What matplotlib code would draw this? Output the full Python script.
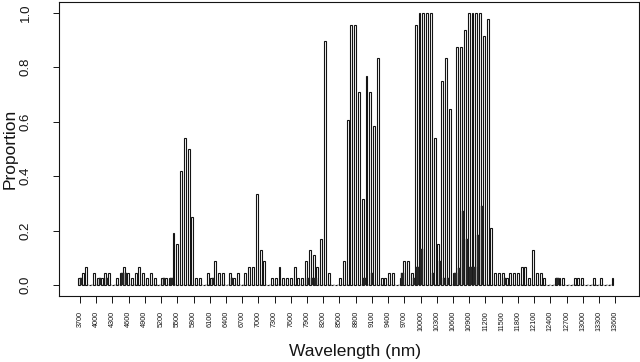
import numpy as np
import matplotlib
matplotlib.use("Agg")
import matplotlib.pyplot as plt

plt.rcParams['font.family'] = ['Liberation Sans', 'DejaVu Sans']

# ---- data -------------------------------------------------------------
wl_start = 3680          # first wavelength bin (nm)
wl_step = 70             # bin spacing (nm)

# proportion per wavelength bin (outlined bars)
prop_main = [
    0.024, 0.045, 0.066, 0.0, 0.045, 0.024, 0.024, 0.045, 0.045, 0.0,
    0.024, 0.045, 0.066, 0.045, 0.024, 0.045, 0.066, 0.045, 0.024, 0.045,
    0.024, 0.0, 0.024, 0.024, 0.024, 0.19, 0.15, 0.42, 0.54, 0.50,
    0.25, 0.024, 0.024, 0.0, 0.045, 0.024, 0.087, 0.045, 0.045, 0.0,
    0.045, 0.024, 0.045, 0.0, 0.045, 0.066, 0.066, 0.335, 0.13, 0.088,
    0.0, 0.024, 0.024, 0.066, 0.024, 0.024, 0.024, 0.066, 0.024, 0.024,
    0.088, 0.13, 0.11, 0.066, 0.17, 0.895, 0.045, 0.0, 0.0, 0.024,
    0.088, 0.606, 0.956, 0.956, 0.71, 0.316, 0.768, 0.71, 0.584, 0.832,
    0.024, 0.024, 0.045, 0.045, 0.0, 0.024, 0.088, 0.088, 0.045, 0.956,
    1.0, 1.0, 1.0, 1.0, 0.54, 0.15, 0.75, 0.832, 0.646, 0.045,
    0.874, 0.874, 0.935, 1.0, 1.0, 1.0, 1.0, 0.915, 0.976, 0.21,
    0.045, 0.045, 0.045, 0.024, 0.045, 0.045, 0.045, 0.066, 0.066, 0.024,
    0.13, 0.045, 0.045, 0.024, 0.0, 0.0, 0.024, 0.024, 0.024, 0.0,
    0.0, 0.024, 0.024, 0.024, 0.0, 0.0, 0.024, 0.0, 0.024, 0.0,
    0.0, 0.024,
]

# proportion of the second (dark, interleaved) series
prop_dark = [
    0.024, 0.0, 0.0, 0.0, 0.0, 0.024, 0.0, 0.024, 0.0, 0.0,
    0.0, 0.045, 0.045, 0.0, 0.0, 0.0, 0.0, 0.0, 0.0, 0.0,
    0.0, 0.0, 0.024, 0.0, 0.024, 0.0, 0.0, 0.0, 0.0, 0.0,
    0.0, 0.0, 0.0, 0.0, 0.0, 0.024, 0.0, 0.0, 0.0, 0.0,
    0.024, 0.0, 0.0, 0.0, 0.0, 0.0, 0.0, 0.0, 0.0, 0.0,
    0.0, 0.0, 0.0, 0.0, 0.0, 0.0, 0.0, 0.0, 0.0, 0.0,
    0.024, 0.024, 0.024, 0.0, 0.0, 0.0, 0.0, 0.0, 0.0, 0.0,
    0.0, 0.0, 0.0, 0.0, 0.0, 0.024, 0.0, 0.045, 0.0, 0.0,
    0.0, 0.0, 0.0, 0.0, 0.0, 0.045, 0.0, 0.0, 0.024, 0.067,
    0.134, 0.0, 0.0, 0.045, 0.0, 0.088, 0.024, 0.024, 0.0, 0.045,
    0.063, 0.27, 0.17, 0.066, 0.066, 0.185, 0.29, 0.0, 0.0, 0.0,
    0.0, 0.0, 0.024, 0.0, 0.0, 0.0, 0.0, 0.0, 0.0, 0.0,
    0.0, 0.0, 0.0, 0.0, 0.0, 0.0, 0.024, 0.0, 0.0, 0.0,
    0.0, 0.0, 0.0, 0.0, 0.0, 0.0, 0.0, 0.0, 0.0, 0.0,
    0.0,
]

x_tick_labels = [3700, 4000, 4300, 4600, 4900, 5200, 5500, 5800, 6100, 6400,
                 6700, 7000, 7300, 7600, 7900, 8200, 8500, 8800, 9100, 9400,
                 9700, 10000, 10300, 10600, 10900, 11200, 11500, 11800, 12100,
                 12400, 12700, 13000, 13300, 13600]
y_ticks = [0.0, 0.2, 0.4, 0.6, 0.8, 1.0]

# ---- plot -------------------------------------------------------------
wl_main = wl_start + wl_step * np.arange(len(prop_main))
wl_dark = wl_main[:-1] + wl_step / 2

W, H = 640, 362
fig = plt.figure(figsize=(W / 100, H / 100), dpi=100)
left, right, top, bottom = 59, 639, 1.7, 295.9
ax = fig.add_axes([left / W, 1 - bottom / H, (right - left) / W, (bottom - top) / H])

ink = '#141414'
ax.bar(wl_main, prop_main, width=36, color='white', edgecolor=ink,
       linewidth=0.8, zorder=2)
ax.bar(wl_dark, prop_dark, width=42, color='#262626', edgecolor='#262626',
       linewidth=0.3, zorder=3)

ax.set_xlim(3312, 14040)
ax.set_ylim(-0.04, 1.04)

ax.set_xticks(x_tick_labels)
ax.set_xticklabels([str(v) for v in x_tick_labels], rotation=90, fontsize=5.2,
                   va='top')
ax.set_yticks(y_ticks)
ax.set_yticklabels([f"{v:.1f}" for v in y_ticks], rotation=90, va='center',
                   fontsize=9.5)

ax.tick_params(axis='x', length=5, width=0.7, pad=6, colors=ink)
ax.tick_params(axis='y', length=4.5, width=0.7, pad=15, colors=ink)
for s in ax.spines.values():
    s.set_linewidth(0.8)
    s.set_color(ink)

ax.set_xlabel("Wavelength (nm)", fontsize=12.5, color=ink)
ax.set_ylabel("Proportion", fontsize=12.5, color=ink)
ax.xaxis.set_label_coords((355 - left) / (right - left), -(344 - bottom) / (bottom - top))
ax.yaxis.set_label_coords(-(left - 18) / (right - left), 0.5)

fig.savefig("out.png", dpi=100)
